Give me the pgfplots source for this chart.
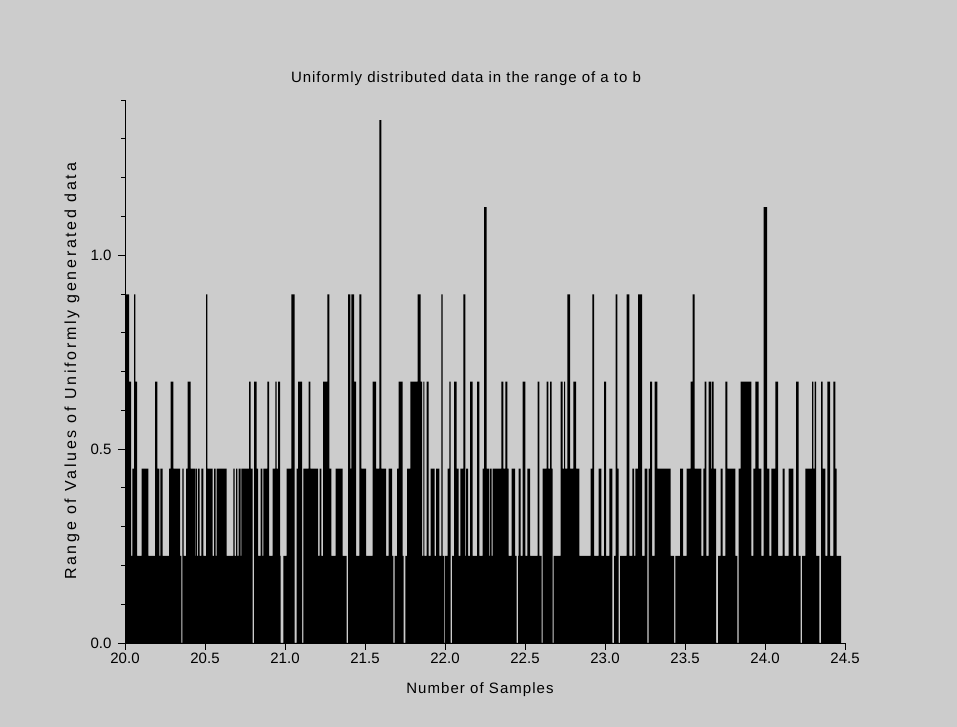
\documentclass[border=0pt]{standalone}
\usepackage{fontspec}
\setmainfont{Liberation Sans}
\newfontfamily\titlefont[LetterSpace=6.5]{Liberation Sans}
\newfontfamily\xlabfont[LetterSpace=7]{Liberation Sans}
\newfontfamily\ylabfont[LetterSpace=17]{Liberation Sans}
\usepackage{pgfplots}
\pgfplotsset{compat=1.18}
\definecolor{bggray}{RGB}{204,204,204}
\begin{document}
\begin{tikzpicture}
\fill[bggray] (0pt,0pt) rectangle (957pt,727pt);
\begin{axis}[
  at={(125pt,84pt)}, anchor=south west,
  scale only axis, width=720pt, height=543pt,
  xmin=20, xmax=24.5, ymin=0, ymax=1.4,
  axis x line*=bottom, axis y line*=left,
  axis line style={black, line width=0.8pt},
  tick align=outside,
  major tick length=7pt, minor tick length=4pt,
  tick style={black, line width=0.8pt},
  xtick={20,20.5,21,21.5,22,22.5,23,23.5,24,24.5},
  xticklabels={20.0,20.5,21.0,21.5,22.0,22.5,23.0,23.5,24.0,24.5},
  ytick={0,0.5,1.0},
  yticklabels={0.0,0.5,1.0},
  minor ytick={0.1,0.2,0.3,0.4,0.6,0.7,0.8,0.9,1.1,1.2,1.3,1.4},
  ticklabel style={font=\fontsize{15}{15}\selectfont},
  xticklabel style={yshift=1pt},
  yticklabel style={xshift=-3pt},
  clip=false,
]
\addplot[fill=black, draw=none, const plot mark left] table {
x y
20.0000 0.8989
20.0250 0.6742
20.0375 0.2247
20.0458 0.4494
20.0563 0.8989
20.0646 0.6742
20.0750 0.2247
20.1042 0.4494
20.1458 0.2247
20.1875 0.6742
20.2021 0.4494
20.2146 0.2247
20.2208 0.4494
20.2354 0.2247
20.2750 0.4494
20.2854 0.6742
20.3021 0.4494
20.3438 0.2247
20.3521 0
20.3583 0.4494
20.3667 0.2247
20.3813 0.4494
20.3917 0.6742
20.4104 0.4494
20.4375 0.2247
20.4417 0.4494
20.4500 0.2247
20.4563 0.4494
20.4667 0.2247
20.4771 0.4494
20.4896 0.2247
20.5063 0.8989
20.5146 0.4494
20.5479 0.2247
20.5563 0.4494
20.5667 0.2247
20.5729 0.4494
20.6354 0.2247
20.6771 0.4494
20.6854 0.2247
20.6938 0.4494
20.7021 0.2247
20.7104 0.4494
20.7229 0.2247
20.7271 0.4494
20.7750 0.6742
20.7854 0.4494
20.7979 0
20.8063 0.6742
20.8229 0.4494
20.8313 0.2247
20.8479 0.4494
20.8583 0.2247
20.8646 0.4494
20.8896 0.6742
20.9000 0.2247
20.9229 0.4494
20.9396 0.6742
20.9479 0.4494
20.9563 0.6742
20.9688 0.2247
20.9729 0
20.9896 0.2247
21.0104 0.4494
21.0396 0.8989
21.0604 0
21.0729 0.4494
21.0813 0.6742
21.1063 0
21.1146 0.4494
21.1479 0.6742
21.1583 0.4494
21.2063 0.2247
21.2167 0.4494
21.2271 0.2247
21.2375 0.6742
21.2646 0.8989
21.2771 0.4494
21.2896 0.2247
21.3167 0.4494
21.3604 0.2247
21.3854 0
21.3938 0.8989
21.4083 0.4494
21.4146 0.8989
21.4313 0.6742
21.4438 0.2247
21.4646 0.8989
21.4771 0.4494
21.5063 0.2247
21.5479 0.6742
21.5688 0.4494
21.5896 1.3483
21.6021 0.4494
21.6313 0.2247
21.6479 0.4494
21.6688 0.2247
21.6771 0
21.6854 0.2247
21.7000 0.4494
21.7104 0.6742
21.7354 0.2247
21.7417 0
21.7521 0.2247
21.7625 0.4494
21.7833 0.6742
21.8292 0.8989
21.8479 0.6742
21.8563 0.2247
21.8646 0.6742
21.8708 0.2247
21.8854 0.6742
21.8979 0.2247
21.9104 0.4494
21.9354 0.2247
21.9438 0.4494
21.9646 0.2247
21.9771 0.8989
21.9854 0.2247
21.9958 0
22.0000 0.2247
22.0167 0.4494
22.0271 0.6742
22.0354 0
22.0438 0.2247
22.0563 0.6742
22.0729 0.4494
22.0854 0.2247
22.0958 0.4494
22.1146 0.8989
22.1271 0.2247
22.1313 0.4494
22.1438 0.2247
22.1563 0.6742
22.1729 0.2247
22.2000 0.6742
22.2146 0.2247
22.2354 0.4494
22.2438 1.1236
22.2604 0.4494
22.2771 0.2247
22.2813 0.4494
22.2917 0.2247
22.2979 0.4494
22.3521 0.6742
22.3646 0.4494
22.3771 0.6742
22.3896 0.4494
22.3979 0.2247
22.4167 0.4494
22.4375 0.2247
22.4479 0
22.4563 0.2247
22.4604 0.4494
22.4729 0.2247
22.4854 0.6742
22.5021 0.2247
22.5146 0.4494
22.5313 0.2247
22.5792 0.6742
22.5896 0.2247
22.6042 0
22.6104 0.4494
22.6354 0.6742
22.6458 0.4494
22.6563 0.6742
22.6667 0.4494
22.6729 0
22.6792 0.2247
22.7229 0.6742
22.7354 0.4494
22.7438 0.6742
22.7500 0.4494
22.7646 0.8989
22.7813 0.4494
22.8021 0.6742
22.8188 0.4494
22.8396 0.2247
22.9104 0.4494
22.9208 0.8989
22.9313 0.2247
22.9604 0.4494
22.9771 0.2247
22.9938 0.6742
23.0063 0.2247
23.0271 0.4494
23.0458 0
23.0563 0.2247
23.0667 0.8989
23.0771 0.4494
23.0854 0
23.0938 0.2247
23.1354 0.8989
23.1521 0.2247
23.1708 0.4494
23.1813 0.2247
23.1896 0.4494
23.2063 0.8989
23.2313 0.2247
23.2479 0.4494
23.2646 0
23.2729 0.4494
23.2813 0.6742
23.2938 0.2247
23.3104 0.6742
23.3271 0.4494
23.4104 0.2247
23.4313 0
23.4396 0.2247
23.4688 0.4494
23.4875 0.2247
23.5104 0.4494
23.5354 0.6742
23.5479 0.8989
23.5604 0.4494
23.6021 0.2247
23.6146 0.4494
23.6229 0.6742
23.6333 0.2247
23.6479 0.6742
23.6646 0.4494
23.6688 0.6742
23.6792 0.4494
23.6938 0
23.7063 0.2247
23.7229 0.4494
23.7354 0.2247
23.7521 0.6742
23.7646 0.4494
23.8146 0.2247
23.8271 0
23.8354 0.4494
23.8479 0.6742
23.9146 0.2247
23.9271 0.4494
23.9396 0.6742
23.9604 0.4494
23.9771 0.2247
23.9917 1.1236
24.0125 0.4494
24.0271 0.2247
24.0396 0.4494
24.0646 0.6742
24.0813 0.2247
24.1104 0.4494
24.1229 0.2247
24.1479 0.4494
24.1771 0.2247
24.1938 0.6742
24.2104 0.2247
24.2229 0
24.2313 0.2247
24.2521 0.4494
24.2938 0.6742
24.3021 0.4494
24.3104 0.6742
24.3188 0.2247
24.3396 0
24.3500 0.6742
24.3604 0.4494
24.3771 0.2247
24.3896 0.6742
24.4063 0.2247
24.4271 0.6742
24.4396 0.4494
24.4479 0.2247
24.4750 0
} \closedcycle;
\end{axis}
\node[font=\titlefont\fontsize{15}{15}\selectfont] at (466pt,648pt) {Uniformly distributed data in the range of a to b};
\node[font=\xlabfont\fontsize{15}{15}\selectfont] at (480pt,37pt) {Number of Samples};
\node[font=\ylabfont\fontsize{16}{16}\selectfont, rotate=90] at (72pt,355.5pt) {Range of Values of Uniformly generated data};
\end{tikzpicture}
\end{document}
